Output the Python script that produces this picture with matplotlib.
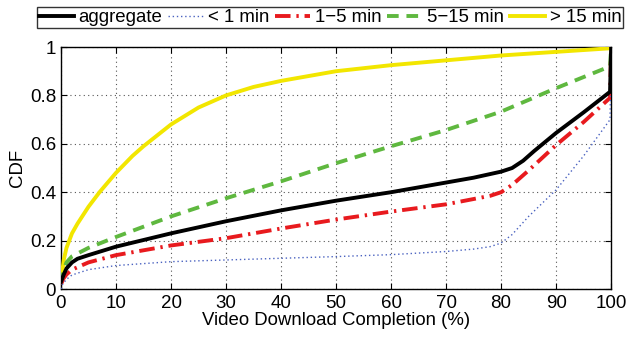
import matplotlib
matplotlib.use("Agg")
import matplotlib.pyplot as plt

plt.rcParams['font.family'] = ['Liberation Sans', 'DejaVu Sans']

# Data (x = % completion, y = CDF)
x_agg = [0, 0.5, 1, 2, 3, 5, 10, 20, 30, 40, 50, 60, 70, 75, 80, 82, 84, 86, 90, 95, 99.8, 100]
y_agg = [0.03, 0.06, 0.085, 0.11, 0.125, 0.14, 0.175, 0.23, 0.28, 0.325, 0.365, 0.40, 0.44, 0.46, 0.485, 0.50, 0.53, 0.57, 0.645, 0.73, 0.815, 1.0]

x_lt1 = [0, 0.3, 1, 2, 5, 10, 20, 30, 40, 50, 60, 70, 75, 78, 80, 82, 85, 90, 95, 99.8, 100]
y_lt1 = [0.0, 0.02, 0.04, 0.058, 0.08, 0.097, 0.113, 0.12, 0.127, 0.134, 0.142, 0.155, 0.165, 0.175, 0.19, 0.225, 0.30, 0.41, 0.55, 0.70, 1.0]

x_1to5 = [0, 0.5, 1, 2, 5, 10, 20, 30, 40, 50, 60, 70, 78, 80, 82, 85, 90, 95, 99.8, 100]
y_1to5 = [0.02, 0.045, 0.06, 0.08, 0.11, 0.14, 0.18, 0.21, 0.25, 0.287, 0.32, 0.35, 0.385, 0.40, 0.43, 0.49, 0.595, 0.69, 0.79, 1.0]

x_5to15 = [0, 0.5, 1, 2, 5, 10, 20, 30, 40, 50, 60, 70, 80, 90, 99.8, 100]
y_5to15 = [0.02, 0.08, 0.11, 0.135, 0.17, 0.215, 0.30, 0.375, 0.445, 0.52, 0.59, 0.657, 0.733, 0.83, 0.92, 1.0]

x_gt15 = [0, 0.5, 1, 2, 3, 5, 7, 10, 13, 15, 20, 25, 30, 35, 40, 50, 60, 70, 80, 90, 100]
y_gt15 = [0.03, 0.12, 0.17, 0.23, 0.27, 0.34, 0.40, 0.48, 0.55, 0.59, 0.68, 0.75, 0.80, 0.835, 0.86, 0.90, 0.925, 0.945, 0.965, 0.98, 0.995]

labels = ['aggregate', '< 1 min', '1\u22125 min', '5\u221215 min', '> 15 min']
x_ticks = [0, 10, 20, 30, 40, 50, 60, 70, 80, 90, 100]
y_ticks = [0, 0.2, 0.4, 0.6, 0.8, 1]
y_ticklabels = ['0', '0.2', '0.4', '0.6', '0.8', '1']

fig = plt.figure(figsize=(6.32, 3.37), dpi=100)
ax = fig.add_axes([0.0965, 0.1424, 0.8705, 0.7181])

ax.plot(x_gt15, y_gt15, color='#f2e600', lw=2.8, ls='-', label=labels[4], zorder=3)
ax.plot(x_5to15, y_5to15, color='#5fb83f', lw=2.8, ls=(0, (3, 2)), label=labels[3], zorder=3)
ax.plot(x_1to5, y_1to5, color='#e81a1e', lw=2.8, ls=(0, (4, 1.5, 0.6, 1.5)), label=labels[2], zorder=4)
ax.plot(x_lt1, y_lt1, color='#4a62c0', lw=1.0, ls=(0, (1, 2)), label=labels[1], zorder=4)
ax.plot(x_agg, y_agg, color='black', lw=2.8, ls='-', label=labels[0], zorder=5)

ax.set_xlim(0, 100)
ax.set_ylim(0, 1)
ax.set_xticks(x_ticks)
ax.set_yticks(y_ticks)
ax.set_yticklabels(y_ticklabels)
ax.tick_params(direction='in', top=True, right=True, labelsize=13.5, length=4)
ax.tick_params(axis='x', pad=4)
ax.tick_params(axis='y', pad=3.5)
ax.grid(True, ls=(0, (1, 3)), color='#555555', lw=0.8)
for s in ax.spines.values():
    s.set_linewidth(1.0)
ax.set_xlabel('Video Download Completion (%)', fontsize=13.4, labelpad=0)
ax.set_ylabel('CDF', fontsize=13.4, labelpad=3)

h, l = ax.get_legend_handles_labels()
order = [4, 3, 2, 1, 0]
leg = fig.legend([h[i] for i in order], [l[i] for i in order], ncol=5,
                 loc='upper left', bbox_to_anchor=(0.058, 0.978),
                 fontsize=13.4, frameon=True, fancybox=False, edgecolor='black',
                 handlelength=1.9, handletextpad=0.25, columnspacing=0.3,
                 borderpad=0.1, borderaxespad=0)
leg.get_frame().set_linewidth(1.0)

fig.savefig('out.png', dpi=100)
